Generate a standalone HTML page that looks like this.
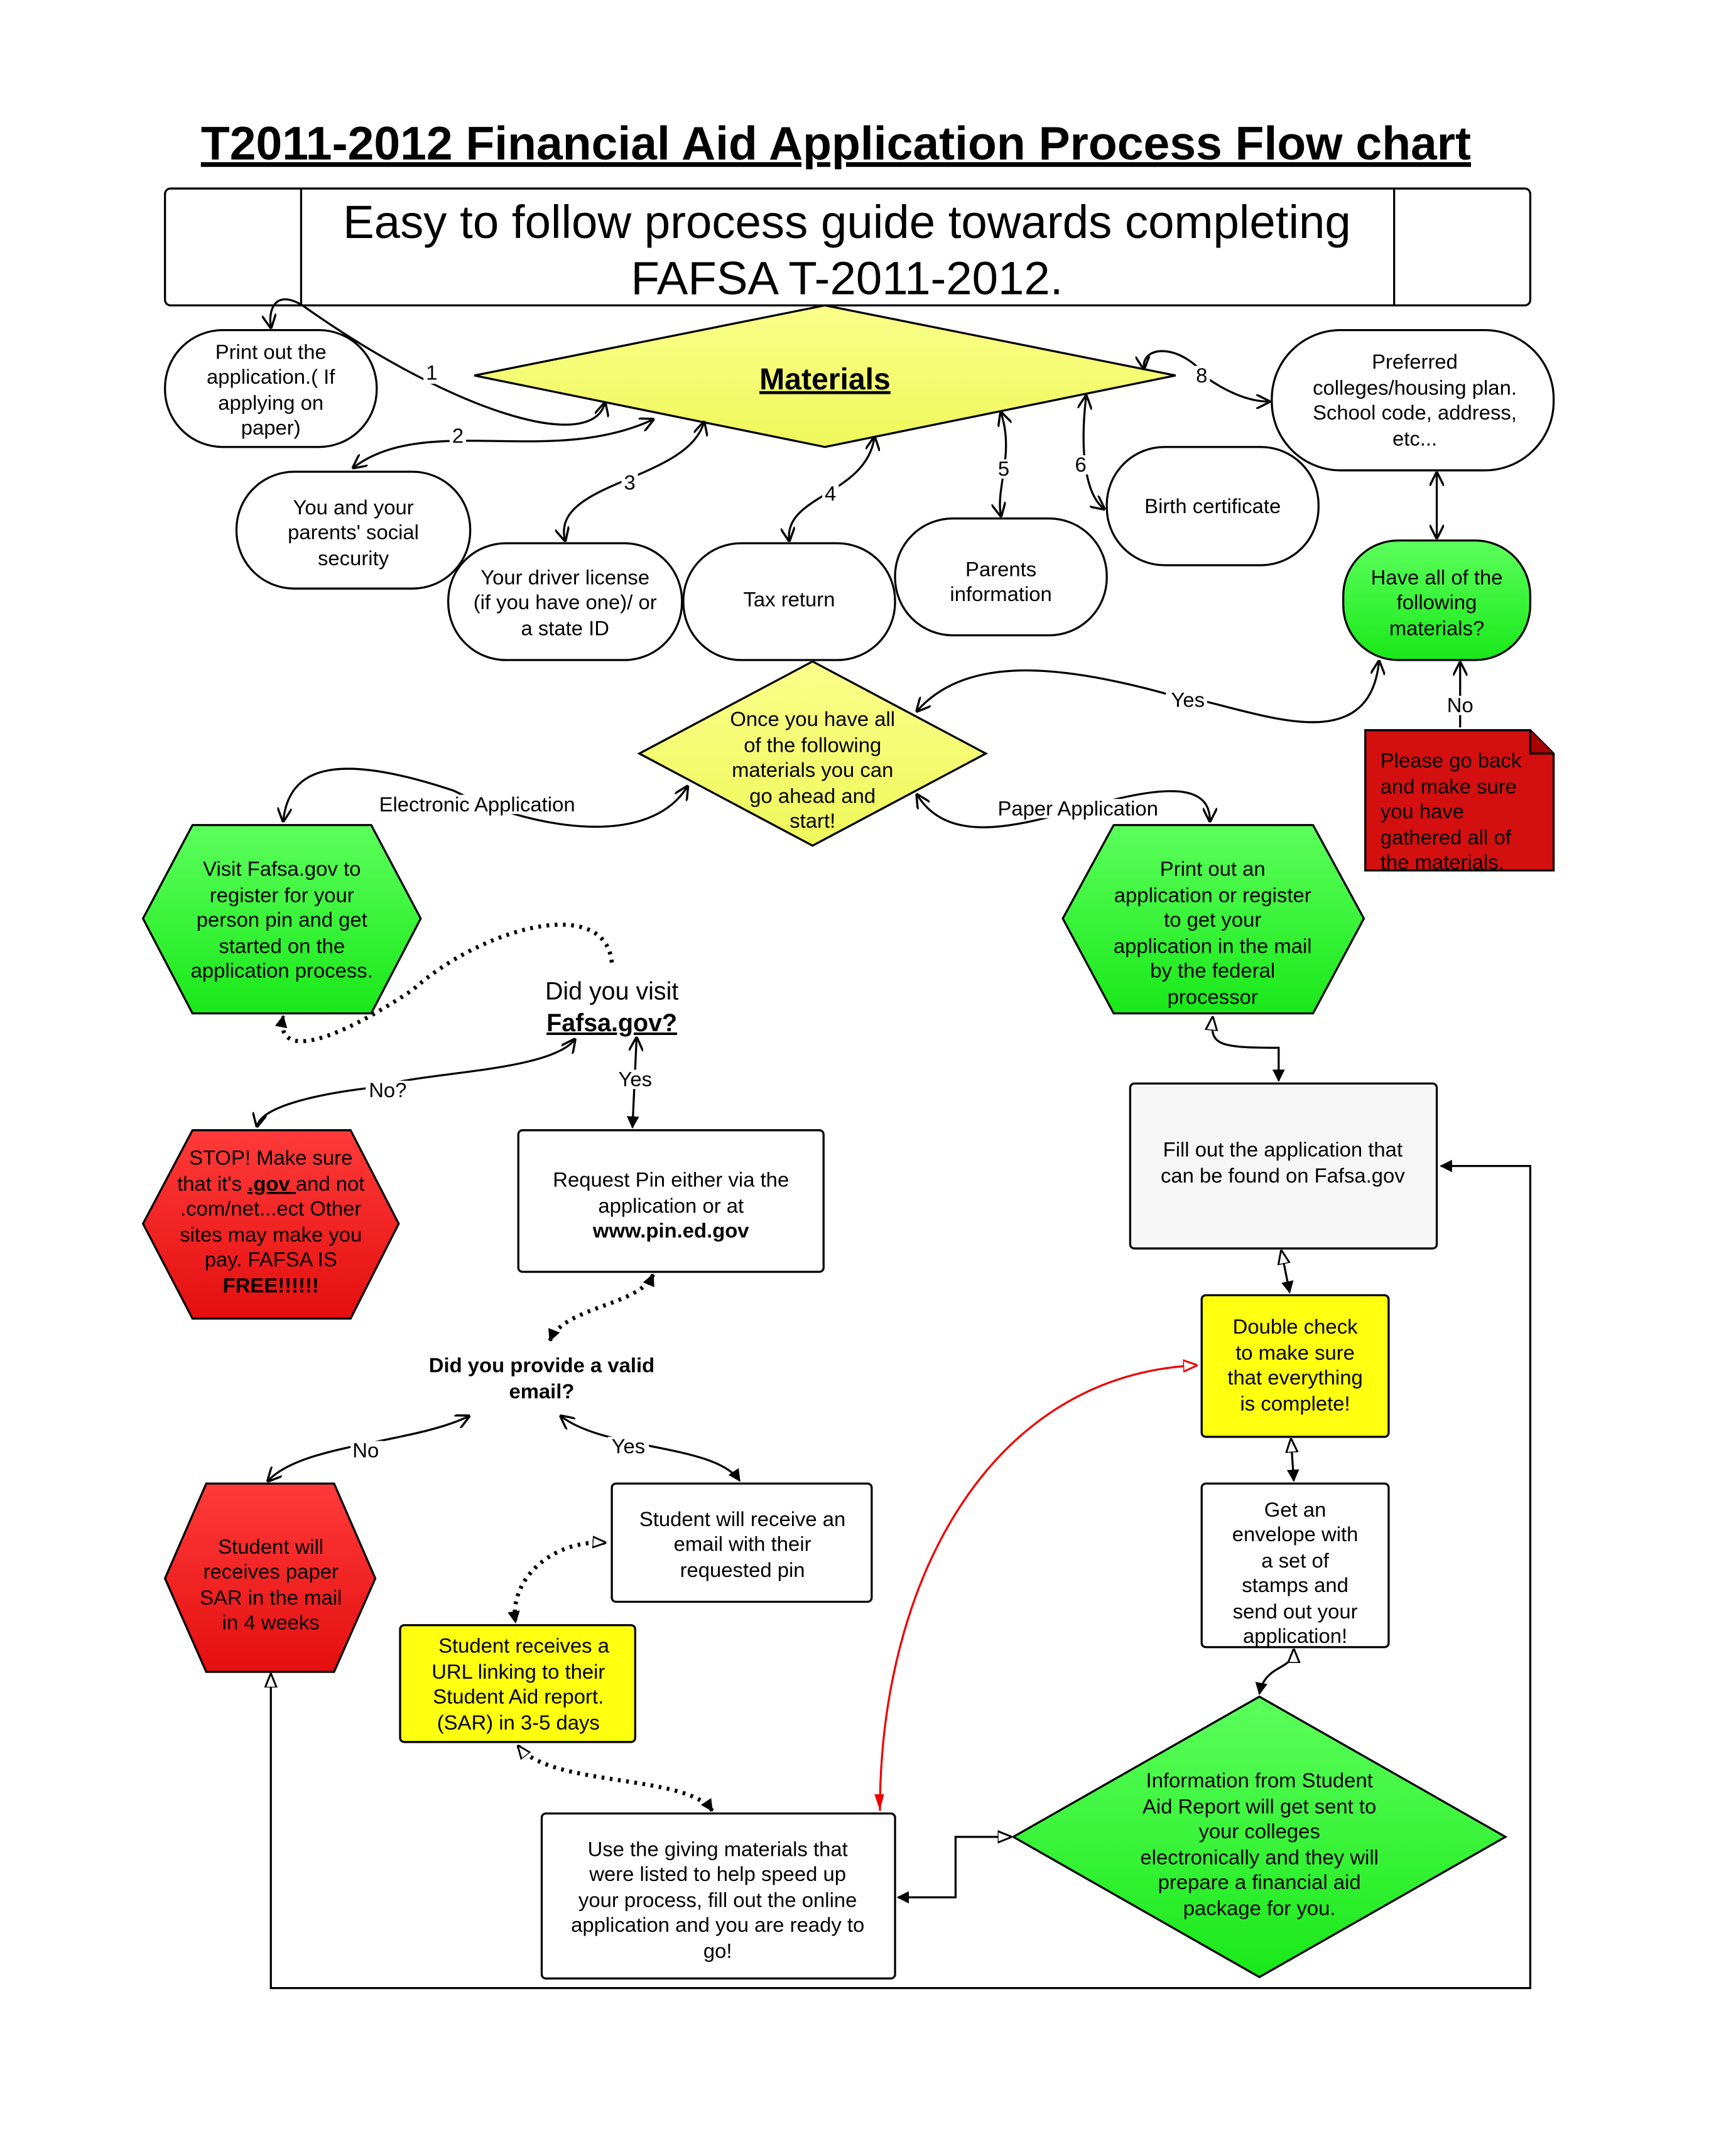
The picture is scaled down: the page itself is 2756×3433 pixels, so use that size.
<!DOCTYPE html>
<html><head><meta charset="utf-8"><style>
html,body{margin:0;padding:0;background:#fff}
svg{display:block}
text{font-family:"Liberation Sans",sans-serif;fill:#000}
</style></head><body>
<svg width="2756" height="3433" viewBox="0 0 1259 1568" xmlns="http://www.w3.org/2000/svg">
<defs>
<marker id="a" viewBox="0 0 10 10" refX="9" refY="5" markerWidth="7" markerHeight="7" orient="auto-start-reverse"><path d="M0,0 L10,5 L0,10" fill="none" stroke="#000" stroke-width="1.5"/></marker>
<marker id="f" viewBox="0 0 10 10" refX="9" refY="5" markerWidth="6" markerHeight="6" orient="auto-start-reverse"><path d="M0,0 L10,5 L0,10z" fill="#000"/></marker>
<marker id="o" viewBox="0 0 10 10" refX="9" refY="5" markerWidth="7" markerHeight="7" orient="auto-start-reverse"><path d="M0,1 L10,5 L0,9z" fill="#fff" stroke="#000" stroke-width="1.3"/></marker>
<marker id="fu" viewBox="0 0 10 10" refX="9" refY="5" markerWidth="9" markerHeight="9" markerUnits="userSpaceOnUse" orient="auto-start-reverse"><path d="M0,0 L10,5 L0,10z" fill="#000"/></marker>
<marker id="ou" viewBox="0 0 10 10" refX="9" refY="5" markerWidth="10" markerHeight="10" markerUnits="userSpaceOnUse" orient="auto-start-reverse"><path d="M0,1 L10,5 L0,9z" fill="#fff" stroke="#000" stroke-width="1.3"/></marker>
<marker id="r" viewBox="0 0 10 10" refX="9" refY="5" markerWidth="7" markerHeight="7" orient="auto"><path d="M0,1 L10,5 L0,9z" fill="#fff" stroke="#e00" stroke-width="1.3"/></marker>
<linearGradient id="y" x1="0" y1="0" x2="0" y2="1"><stop offset="0" stop-color="#fbff8a"/><stop offset="1" stop-color="#eef85a"/></linearGradient>
<linearGradient id="g" x1="0" y1="0" x2="0" y2="1"><stop offset="0" stop-color="#5cff5c"/><stop offset="1" stop-color="#19e819"/></linearGradient>
<linearGradient id="rd" x1="0" y1="0" x2="0" y2="1"><stop offset="0" stop-color="#ff3a3a"/><stop offset="1" stop-color="#e40f0f"/></linearGradient>
</defs>

<text x="608" y="116" font-size="34.3" font-weight="bold" text-anchor="middle" text-decoration="underline">T2011-2012 Financial Aid Application Process Flow chart</text>

<rect x="120" y="137" width="993" height="85" rx="4" fill="#fff" stroke="#000" stroke-width="1.5"/>
<line x1="219" y1="137" x2="219" y2="222" stroke="#000" stroke-width="1.5"/>
<line x1="1014" y1="137" x2="1014" y2="222" stroke="#000" stroke-width="1.5"/>
<text x="616" y="173" font-size="34" text-anchor="middle">Easy to follow process guide towards completing</text>
<text x="616" y="214" font-size="34" text-anchor="middle">FAFSA T-2011-2012.</text>

<g stroke="#000" stroke-width="1.5">
<polygon points="345,273 600,222 855,273 600,325" fill="url(#y)"/>
<rect x="120" y="240" width="154" height="85" rx="42" fill="#fff"/>
<rect x="172" y="343" width="170" height="85" rx="42" fill="#fff"/>
<rect x="326" y="395" width="170" height="85" rx="42" fill="#fff"/>
<rect x="497" y="395" width="154" height="85" rx="42" fill="#fff"/>
<rect x="651" y="377" width="154" height="85" rx="42" fill="#fff"/>
<rect x="805" y="325" width="154" height="86" rx="42" fill="#fff"/>
<rect x="925" y="240" width="205" height="102" rx="50" fill="#fff"/>
<rect x="977" y="393" width="136" height="87" rx="40" fill="url(#g)"/>
<path d="M993,531 L1113,531 L1130,548 L1130,633 L993,633Z" fill="#d40f0f"/>
<path d="M1113,531 L1113,548 L1130,548" fill="#a00"/>
<polygon points="465,548 591,481 717,548 591,615" fill="url(#y)"/>
<polygon points="104,668 140,600 270,600 306,668 270,737 140,737" fill="url(#g)"/>
<polygon points="773,668 810,600 955,600 992,668 955,737 810,737" fill="url(#g)"/>
<polygon points="104,890 140,822 255,822 290,890 255,959 140,959" fill="url(#rd)"/>
<rect x="377" y="822" width="222" height="103" rx="3" fill="#fff"/>
<rect x="822" y="788" width="223" height="120" rx="3" fill="#f6f6f6"/>
<rect x="874" y="942" width="136" height="103" rx="3" fill="#ffff10"/>
<polygon points="120,1148 150,1079 243,1079 273,1148 243,1216 150,1216" fill="url(#rd)"/>
<rect x="445" y="1079" width="189" height="86" rx="3" fill="#fff"/>
<rect x="291" y="1182" width="171" height="85" rx="3" fill="#ffff10"/>
<rect x="874" y="1079" width="136" height="119" rx="3" fill="#fff"/>
<polygon points="737,1336 916,1234 1095,1336 916,1438" fill="url(#g)"/>
<rect x="394" y="1319" width="257" height="120" rx="3" fill="#fff"/>
</g>

<g font-size="15" text-anchor="middle">
<text x="600" y="283" font-size="22" font-weight="bold" text-decoration="underline">Materials </text>
<text x="197" y="261">Print out the</text><text x="197" y="279">application.( If</text><text x="197" y="298">applying on</text><text x="197" y="316">paper)</text>
<text x="257" y="374">You and your</text><text x="257" y="392">parents' social</text><text x="257" y="411">security</text>
<text x="411" y="425">Your driver license</text><text x="411" y="443">(if you have one)/ or</text><text x="411" y="462">a state ID</text>
<text x="574" y="441">Tax return</text>
<text x="728" y="419">Parents</text><text x="728" y="437">information</text>
<text x="882" y="373">Birth certificate</text>
<text x="1029" y="268">Preferred</text><text x="1029" y="287">colleges/housing plan.</text><text x="1029" y="305">School code, address,</text><text x="1029" y="324">etc...</text>
<text x="1045" y="425">Have all of the</text><text x="1045" y="443">following</text><text x="1045" y="462">materials?</text>
<g text-anchor="start"><text x="1004" y="558" fill="#fff">Please go back</text><text x="1004" y="577" fill="#fff">and make sure</text><text x="1004" y="595" fill="#fff">you have</text><text x="1004" y="614" fill="#fff">gathered all of</text><text x="1004" y="632" fill="#fff">the materials.</text></g>
<text x="591" y="528">Once you have all</text><text x="591" y="547">of the following</text><text x="591" y="565">materials you can</text><text x="591" y="584">go ahead and</text><text x="591" y="602">start!</text>
<text x="205" y="637">Visit Fafsa.gov to</text><text x="205" y="656">register for your</text><text x="205" y="674">person pin and get</text><text x="205" y="693">started on the</text><text x="205" y="711">application process.</text>
<text x="882" y="637">Print out an</text><text x="882" y="656">application or register</text><text x="882" y="674">to get your</text><text x="882" y="693">application in the mail</text><text x="882" y="711">by the federal</text><text x="882" y="730">processor</text>
<text x="445" y="727" font-size="18">Did you visit</text>
<text x="445" y="750" font-size="18" font-weight="bold" text-decoration="underline">Fafsa.gov?</text>
<text x="197" y="847">STOP! Make sure</text><text x="197" y="866">that it's <tspan font-weight="bold" text-decoration="underline">.gov </tspan>and not</text><text x="197" y="884">.com/net...ect Other</text><text x="197" y="903">sites may make you</text><text x="197" y="921">pay. FAFSA IS</text><text x="197" y="940" font-weight="bold">FREE!!!!!!</text>
<text x="488" y="863">Request Pin either via the</text><text x="488" y="882">application or at</text><text x="488" y="900" font-weight="bold">www.pin.ed.gov</text>
<text x="933" y="841">Fill out the application that</text><text x="933" y="860">can be found on Fafsa.gov</text>
<text x="942" y="970">Double check</text><text x="942" y="989">to make sure</text><text x="942" y="1007">that everything</text><text x="942" y="1026">is complete!</text>
<text x="394" y="998" font-weight="bold">Did you provide a valid</text><text x="394" y="1017" font-weight="bold">email?</text>
<text x="197" y="1130">Student will</text><text x="197" y="1148">receives paper</text><text x="197" y="1167">SAR in the mail</text><text x="197" y="1185">in 4 weeks</text>
<text x="540" y="1110">Student will receive an</text><text x="540" y="1128">email with their</text><text x="540" y="1147">requested pin</text>
<text x="381" y="1202">Student receives a</text><text x="377" y="1221">URL linking to their</text><text x="377" y="1239">Student Aid report.</text><text x="377" y="1258">(SAR) in 3-5 days</text>
<text x="942" y="1103">Get an</text><text x="942" y="1121">envelope with</text><text x="942" y="1140">a set of</text><text x="942" y="1158">stamps and</text><text x="942" y="1177">send out your</text><text x="942" y="1195">application!</text>
<text x="916" y="1300">Information from Student</text><text x="916" y="1319">Aid Report will get sent to</text><text x="916" y="1337">your colleges</text><text x="916" y="1356">electronically and they will</text><text x="916" y="1374">prepare a financial aid</text><text x="916" y="1393">package for you.</text>
<text x="522" y="1350">Use the giving materials that</text><text x="522" y="1368">were listed to help speed up</text><text x="522" y="1387">your process, fill out the online</text><text x="522" y="1405">application and you are ready to</text><text x="522" y="1424">go!</text>
</g>

<g fill="none" stroke="#000" stroke-width="1.5">
<path d="M440,293 C430,330 330,300 220,222 C200,210 195,225 197,238" marker-start="url(#a)" marker-end="url(#a)"/>
<path d="M475,305 C400,340 310,300 257,340" marker-start="url(#a)" marker-end="url(#a)"/>
<path d="M512,307 C500,350 400,350 411,393" marker-start="url(#a)" marker-end="url(#a)"/>
<path d="M636,318 C630,360 570,360 574,393" marker-start="url(#a)" marker-end="url(#a)"/>
<path d="M728,300 C738,330 724,355 728,375" marker-start="url(#a)" marker-end="url(#a)"/>
<path d="M790,288 C785,330 790,360 803,370" marker-start="url(#a)" marker-end="url(#a)"/>
<path d="M832,268 C830,250 860,250 878,275 C900,290 915,292 923,292" marker-start="url(#a)" marker-end="url(#a)"/>
<path d="M1045,344 L1045,391" marker-start="url(#a)" marker-end="url(#a)"/>
<path d="M1003,481 C995,560 900,510 850,505 C760,480 700,480 667,517" marker-start="url(#a)" marker-end="url(#a)"/>
<path d="M1062,482 L1062,529" marker-start="url(#a)"/>
<path d="M500,572 C470,620 380,600 330,575 C240,545 210,560 206,597" marker-start="url(#a)" marker-end="url(#a)"/>
<path d="M667,578 C690,615 740,600 780,590 C860,565 880,575 880,597" marker-start="url(#a)" marker-end="url(#a)"/>
<path d="M418,756 C400,780 300,780 280,790 C230,795 190,805 187,819" marker-start="url(#a)" marker-end="url(#a)"/>
<path d="M463,755 L460,820" marker-start="url(#a)" marker-end="url(#f)"/>
<path d="M882,740 C880,760 885,762 930,762 L930,786" marker-start="url(#o)" marker-end="url(#f)"/>
<path d="M932,910 L938,940" marker-start="url(#o)" marker-end="url(#f)"/>
<path d="M939,1047 L941,1077" marker-start="url(#o)" marker-end="url(#f)"/>
<path d="M941,1200 C941,1215 920,1210 916,1232" marker-start="url(#o)" marker-end="url(#f)"/>
<path d="M341,1030 C300,1050 220,1050 195,1077" marker-start="url(#a)" marker-end="url(#a)"/>
<path d="M408,1030 C440,1055 520,1050 538,1077" marker-start="url(#a)" marker-end="url(#f)"/>
<path d="M735,1336 L695,1336 L695,1380 L653,1380" marker-start="url(#o)" marker-end="url(#f)"/>
<path d="M197,1218 L197,1446 L1113,1446 L1113,848 L1048,848" marker-start="url(#o)" marker-end="url(#f)"/>
</g>
<g fill="none" stroke="#000" stroke-width="3" stroke-dasharray="2,4">
<path d="M445,700 C440,650 350,675 300,720 C240,760 200,770 206,739" marker-end="url(#fu)"/>
<path d="M475,927 C465,950 410,950 400,975" marker-start="url(#fu)" marker-end="url(#fu)"/>
<path d="M440,1122 C400,1120 370,1150 375,1180" marker-start="url(#ou)" marker-end="url(#fu)"/>
<path d="M377,1270 C400,1300 500,1290 518,1317" marker-start="url(#ou)" marker-end="url(#fu)"/>
</g>
<path d="M640,1317 C640,1150 720,1000 870,993" fill="none" stroke="#e00" stroke-width="1.5" marker-end="url(#r)"/>
<path d="M643,1305 L640,1317 L636,1305z" fill="#e00"/>

<g font-size="15" text-anchor="middle">
<g fill="#fff"><rect x="308" y="265" width="12" height="14"/><rect x="327" y="311" width="12" height="14"/><rect x="452" y="344" width="12" height="14"/><rect x="598" y="352" width="12" height="14"/><rect x="724" y="334" width="12" height="14"/><rect x="780" y="331" width="12" height="14"/><rect x="868" y="266" width="12" height="14"/><rect x="848" y="502" width="30" height="14"/><rect x="1050" y="506" width="24" height="14"/><rect x="272" y="578" width="150" height="14"/><rect x="722" y="581" width="124" height="14"/><rect x="266" y="786" width="32" height="14"/><rect x="447" y="778" width="30" height="14"/><rect x="255" y="1048" width="24" height="14"/><rect x="442" y="1045" width="30" height="14"/></g>
<text x="314" y="276">1</text><text x="333" y="322">2</text><text x="458" y="356">3</text><text x="604" y="364">4</text><text x="730" y="346">5</text><text x="786" y="343">6</text><text x="874" y="278">8</text>
<text x="864" y="514">Yes</text><text x="1062" y="518">No</text>
<text x="347" y="590">Electronic Application</text><text x="784" y="593">Paper Application</text>
<text x="282" y="798">No?</text><text x="462" y="790">Yes</text>
<text x="266" y="1060">No</text><text x="457" y="1057">Yes</text>
</g>
</svg>
</body></html>
